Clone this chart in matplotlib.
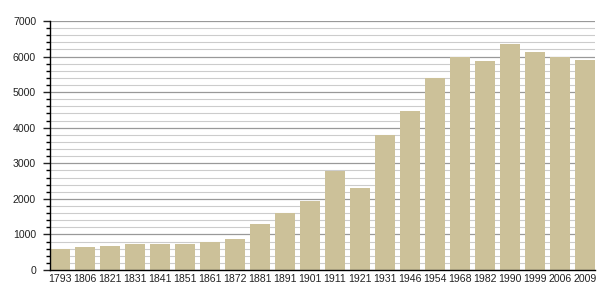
import matplotlib
matplotlib.use("Agg")
import matplotlib.pyplot as plt
from matplotlib.ticker import MultipleLocator

years = ["1793", "1806", "1821", "1831", "1841", "1851", "1861", "1872", "1881", "1891",
         "1901", "1911", "1921", "1931", "1946", "1954", "1968", "1982", "1990", "1999",
         "2006", "2009"]
population = [582, 650, 676, 731, 731, 728, 787, 871, 1290, 1593,
              1940, 2792, 2305, 3790, 4462, 5389, 5997, 5876, 6354, 6137,
              5990, 5904]

plt.rcParams['font.family'] = ['Liberation Sans', 'DejaVu Sans']

fig = plt.figure(figsize=(6.05, 3.0), dpi=100)
ax = fig.add_axes([50/605, 30/300, 545/605, 249/300])

x = list(range(len(years)))
ax.bar(x, population, width=0.82, color="#CCC199", zorder=3)

ax.set_xlim(-0.41, len(years) - 0.59)
ax.set_ylim(0, 7000)
ax.yaxis.set_major_locator(MultipleLocator(1000))
ax.yaxis.set_minor_locator(MultipleLocator(200))
ax.grid(which='major', axis='y', color='#999999', linewidth=0.9, zorder=0)
ax.grid(which='minor', axis='y', color='#cccccc', linewidth=0.8, zorder=0)
ax.set_xticks(x)
ax.set_xticklabels(years)
ax.tick_params(axis='x', length=0, pad=3, labelsize=7.6, colors='#222222')
ax.tick_params(axis='y', which='major', length=5, width=1, labelsize=7.6, pad=5, colors='#222222')
ax.tick_params(axis='y', which='minor', length=3, width=1)
for s in ['top', 'right']:
    ax.spines[s].set_visible(False)
for s in ['left', 'bottom']:
    ax.spines[s].set_color('black')
    ax.spines[s].set_linewidth(1)
    ax.spines[s].set_zorder(4)

fig.savefig("out.png", dpi=100)
